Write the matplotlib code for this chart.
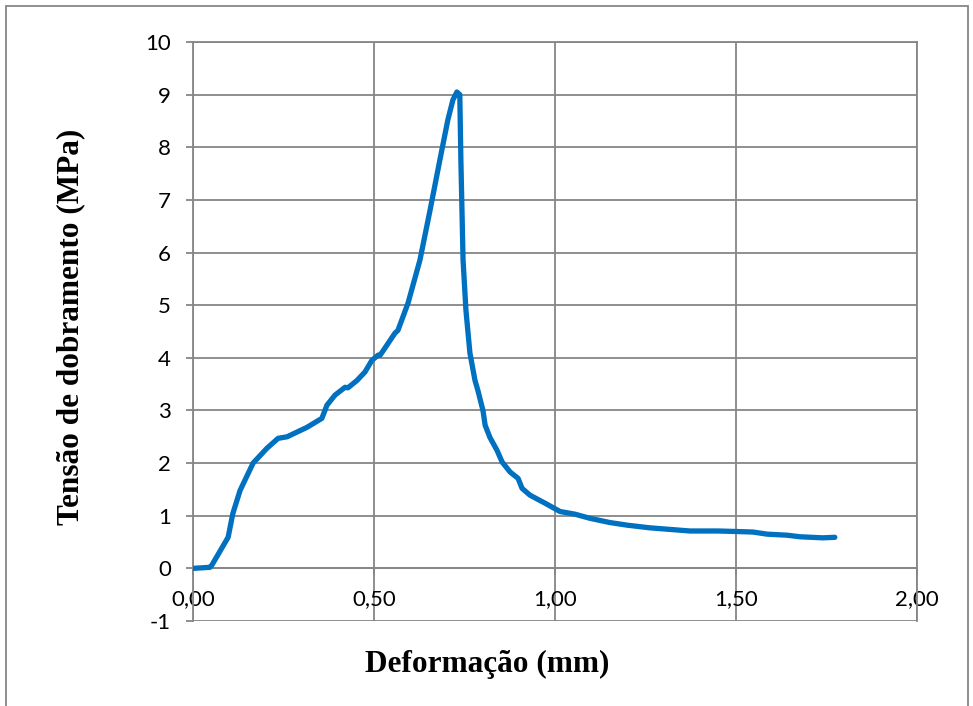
# Bending stress vs deformation curve
import numpy as np
import matplotlib.pyplot as plt
from matplotlib.patches import Rectangle

plt.rcParams['axes.unicode_minus'] = False

# Data
deformacao = [0.0, 0.047, 0.052, 0.097, 0.11, 0.13, 0.166, 0.204, 0.235, 0.26, 0.315,
              0.356, 0.37, 0.392, 0.42, 0.428, 0.453, 0.475, 0.494, 0.511, 0.517,
              0.558, 0.566, 0.594, 0.627, 0.655, 0.682, 0.704, 0.718, 0.729, 0.737,
              0.740, 0.746, 0.754, 0.765, 0.779, 0.787, 0.801, 0.807, 0.820, 0.840,
              0.854, 0.876, 0.898, 0.909, 0.931, 0.972, 1.014, 1.055, 1.097, 1.152,
              1.20, 1.262, 1.373, 1.45, 1.503, 1.547, 1.586, 1.641, 1.677, 1.740, 1.773]
tensao = [0.0, 0.02, 0.06, 0.59, 1.04, 1.48, 2.0, 2.28, 2.47, 2.5, 2.68,
          2.85, 3.1, 3.29, 3.44, 3.43, 3.57, 3.73, 3.95, 4.05, 4.05,
          4.47, 4.52, 5.04, 5.86, 6.81, 7.76, 8.52, 8.9, 9.05, 9.0,
          7.76, 5.86, 4.9, 4.09, 3.57, 3.38, 3.0, 2.72, 2.49, 2.24,
          2.02, 1.83, 1.71, 1.52, 1.39, 1.24, 1.08, 1.03, 0.95, 0.87,
          0.82, 0.77, 0.71, 0.71, 0.70, 0.69, 0.65, 0.63, 0.60, 0.58, 0.59]

x_ticks = [0, 0.5, 1.0, 1.5, 2.0]
x_labels = ['0,00', '0,50', '1,00', '1,50', '2,00']
y_ticks = list(range(-1, 11))

grid_color = '#868686'

fig = plt.figure(figsize=(9.73, 7.06), dpi=100)
ax = fig.add_axes([193/973, 1 - 621/706, (917 - 193)/973, (621 - 42)/706])

ax.plot(deformacao, tensao, color='#0070C0', linewidth=3.8, solid_capstyle='round',
        solid_joinstyle='round', zorder=3)

ax.set_xlim(0, 2)
ax.set_ylim(-1, 10)
ax.set_xticks(x_ticks)
ax.set_xticklabels(x_labels)
ax.set_yticks(y_ticks)
ax.grid(True, color=grid_color, linewidth=1.3)

for s in ax.spines.values():
    s.set_color(grid_color)
    s.set_linewidth(1.3)
ax.spines['bottom'].set_position(('data', 0))

ax.tick_params(axis='both', colors=grid_color, length=5, width=1.3, direction='out')
ax.tick_params(axis='y', pad=11, labelcolor='black', labelsize=16)
ax.tick_params(axis='x', pad=10, labelcolor='black', labelsize=16)
for lab in ax.get_xticklabels() + ax.get_yticklabels():
    lab.set_fontfamily('Lato')

ax.set_xlabel('Deformação (mm)', fontfamily='Liberation Serif', fontweight='bold',
              fontsize=22.5)
ax.set_ylabel('Tensão de dobramento (MPa)', fontfamily='Liberation Serif',
              fontweight='bold', fontsize=22.5)
ax.xaxis.set_label_coords(0.407, -0.05)
ax.yaxis.set_label_coords(-0.149, 0.508)

# outer chart border
fig.patches.append(Rectangle((6/973, -0.01), (968 - 6)/973, 1.0 - 6/706 + 0.01,
                             transform=fig.transFigure, fill=False,
                             edgecolor=grid_color, linewidth=1.3))

fig.savefig('out.png', dpi=100)
